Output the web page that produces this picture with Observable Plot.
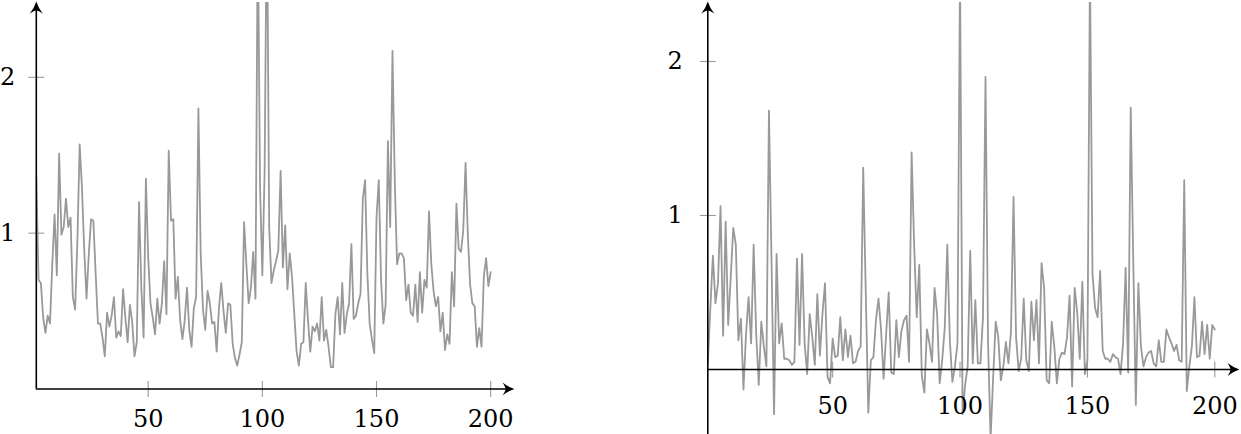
<!DOCTYPE html>
<html><head><meta charset="utf-8">
<script src="https://cdn.jsdelivr.net/npm/d3@7"></script>
<script src="https://cdn.jsdelivr.net/npm/@observablehq/plot@0.6"></script>
<style>
html,body{margin:0;padding:0;background:#fff;}
#wrap{position:relative;width:1241px;height:434px;overflow:hidden;background:#fff;}
#left{position:absolute;left:0;top:0;}
#right{position:absolute;left:620px;top:0;}
</style></head><body>
<div id="wrap"><div id="left"></div><div id="right"></div></div>
<script>
// ---- data ----
const leftValues = [
1.36,0.70,0.68,0.46,0.36,0.47,0.42,0.80,1.12,0.73,
1.51,0.99,1.04,1.22,1.04,1.10,0.59,0.51,0.95,1.57,
1.29,0.89,0.58,0.87,1.09,1.08,0.74,0.42,0.42,0.33,
0.21,0.49,0.40,0.47,0.59,0.33,0.37,0.34,0.64,0.46,
0.30,0.54,0.43,0.21,0.30,1.20,0.65,0.33,1.35,0.85,
0.55,0.46,0.35,0.58,0.42,0.55,0.82,0.48,1.53,1.08,
1.09,0.58,0.72,0.44,0.32,0.44,0.65,0.38,0.27,0.52,
0.59,1.80,0.87,0.51,0.38,0.63,0.55,0.42,0.43,0.24,
0.52,0.68,0.50,0.36,0.55,0.54,0.29,0.20,0.15,0.22,
0.30,1.07,0.80,0.55,0.65,0.88,0.58,3.00,1.30,0.73,
1.40,3.20,1.04,0.68,0.76,0.82,0.89,1.40,0.78,1.05,
0.64,0.87,0.72,0.48,0.24,0.15,0.29,0.30,0.68,0.44,
0.24,0.40,0.37,0.42,0.31,0.59,0.31,0.38,0.27,0.14,
0.14,0.48,0.59,0.35,0.68,0.36,0.48,0.55,0.93,0.45,
0.47,0.55,0.61,1.22,1.34,0.74,0.42,0.32,0.23,1.10,
1.34,0.70,0.42,0.54,1.59,1.04,2.17,1.34,0.80,0.87,
0.87,0.84,0.57,0.67,0.49,0.47,0.67,0.43,0.75,0.49,
0.70,0.65,1.14,0.80,0.63,0.53,0.59,0.37,0.49,0.25,
0.35,0.29,0.75,0.53,1.19,0.90,0.88,1.02,1.45,0.99,
0.67,0.55,0.53,0.27,0.39,0.27,0.72,0.84,0.66,0.75
];
const rightValues = [
0.04,0.40,0.74,0.43,0.56,1.06,0.22,0.96,0.29,0.60,
0.92,0.81,0.19,0.33,-0.13,0.23,0.47,0.17,0.81,0.23,
-0.10,0.31,0.15,0.02,1.68,0.71,-0.29,0.75,0.17,0.30,
0.07,0.07,0.06,0.03,0.05,0.72,0.16,0.75,0.17,-0.03,
0.36,0.21,0.03,0.49,0.09,0.36,0.56,-0.05,-0.09,0.20,
0.08,0.09,0.34,0.06,0.26,0.08,0.22,0.04,0.05,0.12,
0.15,1.31,0.50,-0.28,0.06,0.08,0.32,0.46,0.26,-0.06,
0.23,0.50,-0.02,-0.03,0.32,0.08,0.25,0.32,0.35,0.05,
1.41,0.80,0.34,0.68,-0.04,-0.15,0.26,0.17,0.05,0.53,
0.36,-0.09,0.06,0.27,0.81,0.19,-0.08,0.02,0.17,2.60,
-0.29,-0.10,0.02,0.77,0.04,0.45,0.04,0.04,0.34,1.90,
0.17,-0.45,-0.05,0.31,0.21,-0.07,0.02,0.18,0.04,0.25,
1.12,0.21,-0.01,0.07,0.46,0.06,-0.01,0.44,0.19,0.45,
0.04,0.69,0.53,-0.07,-0.09,0.31,0.15,-0.09,0.07,0.11,
0.10,0.21,0.48,-0.11,0.53,0.37,0.07,0.57,-0.03,0.06,
2.60,0.62,0.40,0.34,0.64,0.12,0.07,0.07,0.05,0.10,
0.08,0.07,-0.03,0.17,0.66,-0.02,1.70,0.70,-0.23,0.56,
0.15,0.02,0.08,0.11,0.12,0.04,0.02,0.19,0.05,0.05,
0.26,0.21,0.17,0.12,0.16,0.06,0.05,1.23,-0.14,0.02,
0.15,0.47,0.08,0.09,0.31,0.10,0.29,0.07,0.29,0.26
];
const xTickValues = [50, 100, 150, 200];
const leftYTickValues = [1, 2];
const rightYTickValues = [1, 2];
const leftXDomain = [1, 210];
const leftYDomain = [0, 2.48];
const rightXDomain = [1, 209.3];
const rightYDomain = [-0.422, 2.383];

// ---- styles ----
const lineColor = "#999999";
const tickColor = "#9a9a9a";
const font = "DejaVu Serif";
const fontSize = 24;

// custom pixel-sized symbols
const tickV = {draw(ctx){ ctx.moveTo(0,-8); ctx.lineTo(0,8); }};
const tickH = {draw(ctx){ ctx.moveTo(-8,0); ctx.lineTo(8,0); }};
const arrowRight = {draw(ctx){
  ctx.moveTo(1,0);
  ctx.quadraticCurveTo(-5,-1.8,-11,-6.5);
  ctx.quadraticCurveTo(-8,-2,-8,0);
  ctx.quadraticCurveTo(-8,2,-11,6.5);
  ctx.quadraticCurveTo(-5,1.8,1,0);
  ctx.closePath();
}};
const arrowUp = {draw(ctx){
  ctx.moveTo(0,-1);
  ctx.quadraticCurveTo(-1.8,5,-6.5,11);
  ctx.quadraticCurveTo(-2,8,0,8);
  ctx.quadraticCurveTo(2,8,6.5,11);
  ctx.quadraticCurveTo(1.8,5,0,-1);
  ctx.closePath();
}};

function panel({values, xDomain, yDomain, yTicks, width, marginLeft, marginRight, marginTop, marginBottom, xLabelDy, yLabelDx, yAxisBottom}) {
  return Plot.plot({
    width, height: 434,
    marginLeft, marginRight, marginTop, marginBottom,
    x: {domain: xDomain, axis: null},
    y: {domain: yDomain, axis: null},
    style: {background: "transparent", overflow: "visible"},
    marks: [
      Plot.dot(xTickValues, {x: d => d, y: 0, symbol: tickV, r: 8, stroke: tickColor, fill: "none", strokeWidth: 1.1}),
      Plot.dot(yTicks, {x: xDomain[0], y: d => d, symbol: tickH, r: 8, stroke: tickColor, fill: "none", strokeWidth: 1.1}),
      Plot.line(values, {x: (d, i) => i + 1, y: d => d, stroke: lineColor, strokeWidth: 1.8, clip: true}),
      Plot.ruleY([0], {x1: xDomain[0], x2: xDomain[1] - 2, stroke: "#000", strokeWidth: 1.6}),
      Plot.ruleX([xDomain[0]], {y1: yAxisBottom, y2: yDomain[1] - 0.03, stroke: "#000", strokeWidth: 1.6}),
      Plot.dot([xDomain[1]], {x: d => d, y: 0, symbol: arrowRight, r: 8, fill: "#000", stroke: "none"}),
      Plot.dot([yDomain[1]], {x: xDomain[0], y: d => d, symbol: arrowUp, r: 8, fill: "#000", stroke: "none"}),
      Plot.text(xTickValues, {x: d => d, y: 0, dy: xLabelDy, text: d => String(d), fontFamily: font, fontSize, fill: "#000"}),
      Plot.text(yTicks, {x: xDomain[0], y: d => d, dx: yLabelDx, text: d => String(d), textAnchor: "end", fontFamily: font, fontSize, fill: "#000"})
    ]
  });
}

document.getElementById("left").appendChild(panel({
  values: leftValues, xDomain: leftXDomain, yDomain: leftYDomain, yTicks: leftYTickValues,
  width: 540, marginLeft: 35.8, marginRight: 27, marginTop: 2, marginBottom: 45.5,
  xLabelDy: 30, yLabelDx: -21, yAxisBottom: 0
}));
document.getElementById("right").appendChild(panel({
  values: rightValues, xDomain: rightXDomain, yDomain: rightYDomain, yTicks: rightYTickValues,
  width: 621, marginLeft: 87.3, marginRight: 3, marginTop: 2, marginBottom: 0,
  xLabelDy: 37, yLabelDx: -25, yAxisBottom: rightYDomain[0]
}));
</script>
</body></html>
